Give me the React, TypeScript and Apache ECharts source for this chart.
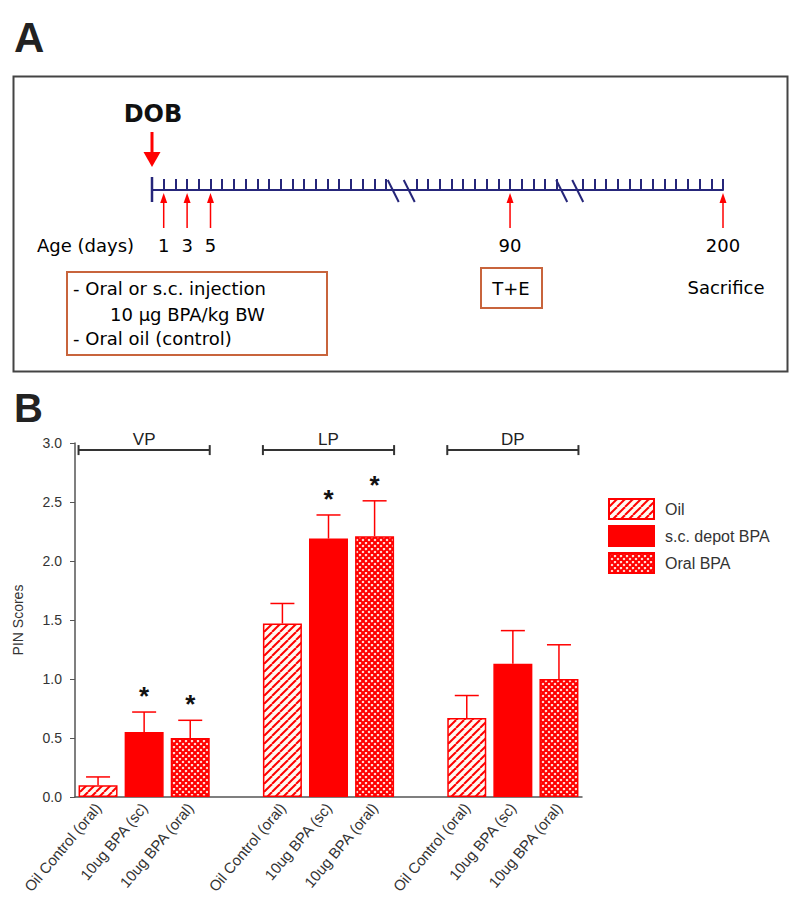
import React, { useEffect, useRef } from 'react';
import * as echarts from 'echarts';

// ---------- Panel B data ----------
const regions = ['VP', 'LP', 'DP'];
const treatments = ['Oil', 's.c. depot BPA', 'Oral BPA'];
const tickLabels = ['Oil Control (oral)', '10ug BPA (sc)', '10ug BPA (oral)'];
const oilMean = [0.1, 1.47, 0.67];
const oilSem = [0.07, 0.17, 0.19];
const scMean = [0.55, 2.19, 1.13];
const scSem = [0.17, 0.2, 0.28];
const oralMean = [0.5, 2.21, 1.0];
const oralSem = [0.15, 0.3, 0.29];
const oilSignificant = [0, 0, 0];
const scSignificant = [1, 1, 0];
const oralSignificant = [1, 1, 0];
const bracketLevel = 2.94;

// ---------- Panel A data (timeline in tick units) ----------
const timelineTicks = [
  0, 1, 2, 3, 4, 5, 6, 7, 8, 9, 10, 11, 12, 13, 14, 15, 16, 17, 18, 19, 20,
  22.6, 23.6, 24.6, 25.6, 26.6, 27.6, 28.6, 29.6, 30.6, 31.6, 32.6, 33.6, 34.6,
  36.8, 37.8, 38.8, 39.8, 40.8, 41.8, 42.8, 43.8, 44.8, 45.8, 46.8, 47.8, 48.8,
];
const timelineBreaks = [21.3, 35.7];
const dayLabels = ['1', '3', '5', '90', '200'];
const dayPositions = [1, 3, 5, 30.6, 48.8];
const timelineStart = [0];

const RED = '#ff0000';
const NAVY = '#26267a';
const COMIC = 'DejaVu Sans, sans-serif';
const SANS = 'Liberation Sans, Arial, sans-serif';

function makeHatch() {
  const s = 8;
  const c = document.createElement('canvas');
  c.width = s;
  c.height = s;
  const ctx = c.getContext('2d')!;
  ctx.fillStyle = '#fffaf2';
  ctx.fillRect(0, 0, s, s);
  ctx.strokeStyle = RED;
  ctx.lineWidth = 2;
  for (const k of [-s, 0, s]) {
    ctx.beginPath();
    ctx.moveTo(k, s);
    ctx.lineTo(k + s, 0);
    ctx.stroke();
  }
  return c;
}

function makeCross() {
  const s = 6;
  const c = document.createElement('canvas');
  c.width = s;
  c.height = s;
  const ctx = c.getContext('2d')!;
  ctx.fillStyle = '#fffaf2';
  ctx.fillRect(0, 0, s, s);
  ctx.strokeStyle = RED;
  ctx.lineWidth = 2.2;
  for (const k of [-s, 0, s]) {
    ctx.beginPath();
    ctx.moveTo(k, s);
    ctx.lineTo(k + s, 0);
    ctx.stroke();
    ctx.beginPath();
    ctx.moveTo(k, 0);
    ctx.lineTo(k + s, s);
    ctx.stroke();
  }
  return c;
}

export default function App() {
  const ref = useRef<HTMLDivElement>(null);
  useEffect(() => {
    document.body.style.margin = '0';
    const chart = echarts.init(ref.current!, null, { renderer: 'svg' });

    const slotIds: string[] = [];
    const slotLabels: string[] = [];
    regions.forEach((r, g) => {
      if (g > 0) {
        slotIds.push('gap' + g);
        slotLabels.push('');
      }
      tickLabels.forEach((l, t) => {
        slotIds.push(r + '-' + t);
        slotLabels.push(l);
      });
    });
    const slotOf = (g: number, t: number) => g * 4 + t;

    const means = [oilMean, scMean, oralMean];
    const sems = [oilSem, scSem, oralSem];
    const sigs = [oilSignificant, scSignificant, oralSignificant];
    const fills: any[] = [
      { image: makeHatch(), repeat: 'repeat' },
      RED,
      { image: makeCross(), repeat: 'repeat' },
    ];

    const barData = (t: number) => {
      const arr: any[] = slotIds.map(() => '-');
      regions.forEach((_, g) => {
        arr[slotOf(g, t)] = means[t][g];
      });
      return arr;
    };

    const errData: number[][] = [];
    regions.forEach((_, g) => {
      treatments.forEach((_, t) => {
        errData.push([slotOf(g, t), means[t][g], sems[t][g], sigs[t][g]]);
      });
    });
    const bracketData = regions.map((_, g) => [slotOf(g, 0), slotOf(g, 2), bracketLevel, g]);

    const barHalf = 19.5;
    const comicText = (x: number, y: number, text: string, align = 'left') => ({
      type: 'text',
      x,
      y,
      style: { text, fontSize: 18, fill: '#000', fontFamily: COMIC, align, verticalAlign: 'middle' },
    });

    const option: any = {
      animation: false,
      backgroundColor: '#ffffff',
      textStyle: { fontFamily: SANS },
      grid: [
        { left: 75, top: 443, width: 507, height: 354 },
        { left: 152, top: 100, width: 571, height: 90 },
      ],
      xAxis: [
        {
          gridIndex: 0,
          type: 'category',
          data: slotIds,
          axisLine: { lineStyle: { color: '#555', width: 1.5 } },
          axisTick: { show: false },
          axisLabel: {
            interval: 0,
            rotate: 50,
            formatter: (_v: string, i: number) => slotLabels[i],
            fontSize: 15,
            color: '#333',
            margin: 8,
          },
        },
        {
          gridIndex: 1,
          type: 'value',
          min: 0,
          max: 48.8,
          axisLine: { lineStyle: { color: NAVY, width: 2 } },
          axisTick: {
            show: true,
            inside: true,
            length: 11,
            customValues: timelineTicks,
            lineStyle: { color: NAVY, width: 2 },
          },
          axisLabel: { show: false },
          splitLine: { show: false },
        },
      ],
      yAxis: [
        {
          gridIndex: 0,
          type: 'value',
          min: 0,
          max: 3,
          interval: 0.5,
          name: 'PIN Scores',
          nameLocation: 'middle',
          nameGap: 50,
          nameTextStyle: { fontSize: 14, color: '#333' },
          axisLine: { show: true, lineStyle: { color: '#555', width: 1.5 } },
          axisTick: { show: true, length: 5, lineStyle: { color: '#555' } },
          axisLabel: { formatter: (v: number) => v.toFixed(1), fontSize: 14, color: '#333', margin: 13 },
          splitLine: { show: false },
        },
        { gridIndex: 1, type: 'value', min: 0, max: 1, show: false },
      ],
      legend: {
        orient: 'vertical',
        left: 603,
        top: 493,
        itemWidth: 45,
        itemHeight: 20,
        itemGap: 5,
        icon: 'rect',
        data: treatments,
        textStyle: { fontSize: 16, color: '#333', padding: [0, 0, 0, 6] },
      },
      graphic: [
        { type: 'text', x: 14, y: 37, style: { text: 'A', fontSize: 42, fontWeight: 'bold', fill: '#222', fontFamily: SANS, verticalAlign: 'middle' } },
        { type: 'rect', shape: { x: 13.5, y: 76.5, width: 774, height: 295 }, style: { fill: 'none', stroke: '#444', lineWidth: 2 } },
        comicText(37, 245, 'Age (days)'),
        { type: 'rect', shape: { x: 67, y: 272, width: 260, height: 83 }, style: { fill: 'none', stroke: '#c8643c', lineWidth: 2 } },
        comicText(73, 288, '- Oral or s.c. injection'),
        comicText(110, 314, '10 μg BPA/kg BW'),
        comicText(73, 338, '- Oral oil (control)'),
        { type: 'rect', shape: { x: 481, y: 268, width: 61, height: 40 }, style: { fill: 'none', stroke: '#c8643c', lineWidth: 2 } },
        comicText(511, 288, 'T+E', 'center'),
        comicText(726, 287, 'Sacrifice', 'center'),
        { type: 'text', x: 14, y: 408, style: { text: 'B', fontSize: 40, fontWeight: 'bold', fill: '#222', fontFamily: SANS, verticalAlign: 'middle' } },
      ],
      series: [
        ...treatments.map((name, t) => ({
          type: 'bar',
          name,
          xAxisIndex: 0,
          yAxisIndex: 0,
          data: barData(t),
          barWidth: 39,
          barGap: '-100%',
          itemStyle: { color: fills[t], borderColor: RED, borderWidth: 1.5 },
        })),
        {
          type: 'custom',
          name: 'SEM',
          xAxisIndex: 0,
          yAxisIndex: 0,
          data: errData,
          encode: { x: 0, y: 1 },
          z: 5,
          renderItem: (_p: any, api: any) => {
            const x = api.value(0);
            const m = api.value(1);
            const e = api.value(2);
            const sig = api.value(3);
            const p0 = api.coord([x, m]);
            const p1 = api.coord([x, m + e]);
            const children: any[] = [
              { type: 'line', shape: { x1: p0[0], y1: p0[1], x2: p1[0], y2: p1[1] }, style: { stroke: RED, lineWidth: 1.5 } },
              { type: 'line', shape: { x1: p1[0] - 12, y1: p1[1], x2: p1[0] + 12, y2: p1[1] }, style: { stroke: RED, lineWidth: 1.5 } },
            ];
            if (sig) {
              children.push({
                type: 'text',
                x: p1[0],
                y: p1[1] - 16,
                style: { text: '*', fontSize: 26, fontWeight: 'bold', fill: '#111', fontFamily: SANS, align: 'center', verticalAlign: 'middle' },
              });
            }
            return { type: 'group', children };
          },
        },
        {
          type: 'custom',
          name: 'regions',
          xAxisIndex: 0,
          yAxisIndex: 0,
          data: bracketData,
          encode: { x: 0, y: 2 },
          clip: false,
          renderItem: (_p: any, api: any) => {
            const a = api.coord([api.value(0), api.value(2)]);
            const b = api.coord([api.value(1), api.value(2)]);
            const g = api.value(3);
            const x1 = a[0] - barHalf;
            const x2 = b[0] + barHalf;
            const y = a[1];
            const st = { stroke: '#333', lineWidth: 2 };
            return {
              type: 'group',
              children: [
                { type: 'line', shape: { x1, y1: y, x2, y2: y }, style: st },
                { type: 'line', shape: { x1, y1: y - 5, x2: x1, y2: y + 5 }, style: st },
                { type: 'line', shape: { x1: x2, y1: y - 5, x2, y2: y + 5 }, style: st },
                {
                  type: 'text',
                  x: (x1 + x2) / 2,
                  y: y - 11,
                  style: { text: regions[g], fontSize: 17, fill: '#222', fontFamily: SANS, align: 'center', verticalAlign: 'middle' },
                },
              ],
            };
          },
        },
        {
          type: 'custom',
          name: 'days',
          xAxisIndex: 1,
          yAxisIndex: 1,
          data: dayPositions.map((p, i) => [p, i]),
          encode: { x: 0 },
          clip: false,
          renderItem: (_p: any, api: any) => {
            const pt = api.coord([api.value(0), 0]);
            const x = pt[0];
            const y0 = pt[1];
            return {
              type: 'group',
              children: [
                { type: 'line', shape: { x1: x, y1: y0 + 38, x2: x, y2: y0 + 10 }, style: { stroke: RED, lineWidth: 1.5 } },
                { type: 'polygon', shape: { points: [[x, y0 + 3], [x - 3.5, y0 + 13], [x + 3.5, y0 + 13]] }, style: { fill: RED } },
                {
                  type: 'text',
                  x,
                  y: y0 + 55,
                  style: { text: dayLabels[api.value(1)], fontSize: 18, fill: '#000', fontFamily: COMIC, align: 'center', verticalAlign: 'middle' },
                },
              ],
            };
          },
        },
        {
          type: 'custom',
          name: 'breaks',
          xAxisIndex: 1,
          yAxisIndex: 1,
          data: timelineBreaks.map((p) => [p]),
          encode: { x: 0 },
          clip: false,
          renderItem: (_p: any, api: any) => {
            const pt = api.coord([api.value(0), 0]);
            const c = pt[0];
            const y0 = pt[1];
            const st = { stroke: NAVY, lineWidth: 2 };
            return {
              type: 'group',
              children: [-8, 8].map((d) => ({
                type: 'line',
                shape: { x1: c + d - 5.5, y1: y0 - 10, x2: c + d + 5.5, y2: y0 + 12 },
                style: st,
              })),
            };
          },
        },
        {
          type: 'custom',
          name: 'start',
          xAxisIndex: 1,
          yAxisIndex: 1,
          data: timelineStart.map((p) => [p]),
          encode: { x: 0 },
          clip: false,
          renderItem: (_p: any, api: any) => {
            const pt = api.coord([api.value(0), 0]);
            const x = pt[0];
            const y0 = pt[1];
            return {
              type: 'group',
              children: [
                { type: 'line', shape: { x1: x, y1: y0 - 13, x2: x, y2: y0 + 12 }, style: { stroke: NAVY, lineWidth: 2.5 } },
                { type: 'line', shape: { x1: x, y1: y0 - 58, x2: x, y2: y0 - 36 }, style: { stroke: RED, lineWidth: 3 } },
                { type: 'polygon', shape: { points: [[x - 8.5, y0 - 38], [x + 8.5, y0 - 38], [x, y0 - 23]] }, style: { fill: RED } },
                {
                  type: 'text',
                  x: x + 1,
                  y: y0 - 76,
                  style: { text: 'DOB', fontSize: 24, fontWeight: 'bold', fill: '#111', fontFamily: COMIC, align: 'center', verticalAlign: 'middle' },
                },
              ],
            };
          },
        },
      ],
    };
    chart.setOption(option);
    return () => chart.dispose();
  }, []);
  return <div ref={ref} style={{ position: 'absolute', left: 0, top: 0, width: 800, height: 912 }} />;
}
